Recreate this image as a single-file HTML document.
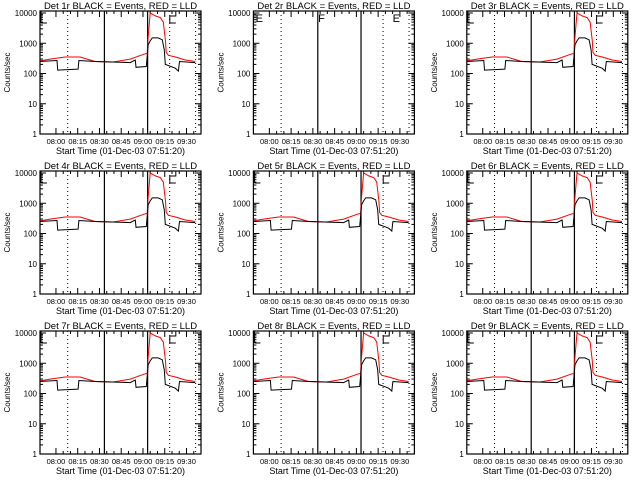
<!DOCTYPE html>
<html><head><meta charset="utf-8"><style>
html,body{margin:0;padding:0;background:#fff;}
svg{display:block;font-family:"Liberation Sans",sans-serif;}
</style></head><body>
<svg id="c" width="640" height="480" viewBox="0 0 640 480"></svg>
<script>
const detNames=["1r","2r","3r","4r","5r","6r","7r","8r","9r"];
const tickLabels=["08:00","08:15","08:30","08:45","09:00","09:15","09:30"];
const tickMinutes=[11,26,41,56,71,86,101];
const yTickValues=[1,10,100,1000,10000];
const yTickLabels=["1","10","100","1000","10000"];
const solidLineMinutes=[44.4,74.2];
const dottedLineMinutes=[19.1,89.4,107.3];
const redTimes=[0,6.9,17.3,27.6,38,50.4,62.2,72.6,73.9,74.5,76,79.5,83,85,86.5,87,88.5,93.3,100.2,107];
const redValues=[260,300,350,350,250,240,300,450,450,1500,10000,8000,7000,5000,1200,500,400,350,280,250];
const blackTimes=[0,11.7,12.2,26.3,26.8,38,62.2,65.7,66.2,73.3,74.6,76,77.4,81.5,84.3,85.7,86.4,93.3,95.4,96.2,107];
const blackValues=[250,270,130,140,270,250,230,280,160,170,900,1200,1500,1500,1300,600,200,150,120,250,230];
const NS="http://www.w3.org/2000/svg";
const svg=document.getElementById('c');
function mk(tag,attrs,parent){const e=document.createElementNS(NS,tag);for(const k in attrs)e.setAttribute(k,attrs[k]);(parent||svg).appendChild(e);return e;}
const W=161,H=123,TMAX=111;
for(let i=0;i<9;i++){
  const col=i%3,row=Math.floor(i/3);
  const L=40+col*213.4,T=11+row*160;
  const g=mk('g',{});
  
  
  const xs=t=>L+t/TMAX*W;
  const ys=v=>T+H-Math.log10(v)/4*(H-2);
  const title=mk('text',{x:L+W/2,y:T-2,'text-anchor':'middle','font-size':'9.5'},g);
  title.textContent='Det '+detNames[i]+' BLACK = Events, RED = LLD';
  
  
  for(let d=0;d<yTickValues.length;d++){
    const y=ys(yTickValues[d]);
    mk('line',{x1:L,x2:L+6,y1:y,y2:y,stroke:'#000'},g);
    mk('line',{x1:L+W-6,x2:L+W,y1:y,y2:y,stroke:'#000'},g);
    const tl=mk('text',{x:L-3,y:y+3,'text-anchor':'end','font-size':'8'},g);
    tl.textContent=yTickLabels[d];
    
    
    if(d<4)for(let m=2;m<10;m++){const ym=ys(yTickValues[d]*m);
      mk('line',{x1:L,x2:L+3,y1:ym,y2:ym,stroke:'#000'},g);
      mk('line',{x1:L+W-3,x2:L+W,y1:ym,y2:ym,stroke:'#000'},g);}
  }
  for(let k=0;k<tickMinutes.length;k++){
    const x=xs(tickMinutes[k]);
    mk('line',{x1:x,x2:x,y1:T+H,y2:T+H-6,stroke:'#000'},g);
    mk('line',{x1:x,x2:x,y1:T,y2:T+6,stroke:'#000'},g);
    for(let m=1;m<3;m++){const xm=xs(tickMinutes[k]+m*5);if(xm<L+W){
      mk('line',{x1:xm,x2:xm,y1:T+H,y2:T+H-3,stroke:'#000'},g);
      mk('line',{x1:xm,x2:xm,y1:T,y2:T+3,stroke:'#000'},g);}}
    const xl=mk('text',{x:x,y:T+H+10,'text-anchor':'middle','font-size':'7.5'},g);
    xl.textContent=tickLabels[k];
    
    
  }
  const xt=mk('text',{x:L+W/2,y:T+H+20,'text-anchor':'middle','font-size':'9'},g);
  xt.textContent='Start Time (01-Dec-03 07:51:20)';
  
  
  const yt=mk('text',{x:0,y:0,'text-anchor':'middle','font-size':'8',transform:'translate('+(L-30)+','+(T+H/2)+') rotate(-90)'},g);
  yt.textContent='Counts/sec';
  
  
  for(const t of solidLineMinutes){const x=xs(t);
    const ln=mk('line',{x1:x,x2:x,y1:T,y2:T+H,stroke:'#000','stroke-width':1.2},g);
    
    }
  for(const t of dottedLineMinutes){const x=xs(t);
    const ln=mk('line',{x1:x,x2:x,y1:T,y2:T+H,stroke:'#000','stroke-dasharray':'1,3'},g);
    
    }
  if(i===1){
    const flags=[['E',1.5],['F',44.6],['E',96]];
    for(const f of flags){const ft=mk('text',{x:xs(f[1]),y:T+11,'font-size':'11'},g);ft.textContent=f[0];
      
      }
  } else {
    mk('path',{d:'M'+(L+1)+' '+(T+12)+' h6 M'+(L+1)+' '+T+' v12',stroke:'#000',fill:'none'},g);
    mk('path',{d:'M'+xs(89.5)+' '+(T+12)+' v-7 h6 v-5 M'+xs(89.5)+' '+(T+12)+' h6',stroke:'#000',fill:'none'},g);
    const mkLine=(ts,vs,color,name)=>{
      let d='';for(let j=0;j<ts.length;j++){d+=(j?'L':'M')+xs(ts[j]).toFixed(1)+' '+Math.max(T,ys(vs[j])).toFixed(1)+' ';}
      const p=mk('path',{d:d,stroke:color,fill:'none','stroke-width':1},g);
      
      
    };
    mkLine(redTimes,redValues,'#f00','lld-series-red');
    mkLine(blackTimes,blackValues,'#000','events-series-black');
  }
  const fr=mk('rect',{x:L,y:T,width:W,height:H,fill:'none',stroke:'#000','stroke-width':1.2},g);
  
  
}
</script>
</body></html>
